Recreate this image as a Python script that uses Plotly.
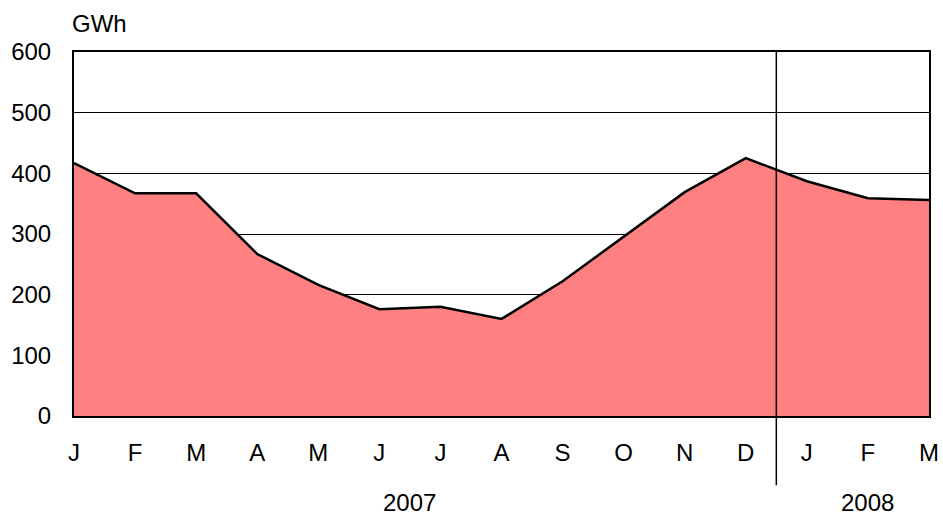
import plotly.graph_objects as go

months = ["J", "F", "M", "A", "M", "J", "J", "A", "S", "O", "N", "D", "J", "F", "M"]
values = [417, 367, 367, 267, 216, 176, 180, 160, 222, 295, 369, 425, 387, 359, 356]
years = ["2007", "2008"]
year_start_idx = [0, 12]
year_end_idx = [11, 14]
y_ticks = [0, 100, 200, 300, 400, 500, 600]
unit = "GWh"

x = list(range(len(months)))
n_span = len(months) - 1

fig = go.Figure()
fig.add_trace(go.Scatter(
    x=x, y=values, mode="lines", fill="tozeroy",
    fillcolor="#FF8080", line=dict(color="black", width=2.5),
    hoverinfo="skip", showlegend=False,
))

font = dict(family="Liberation Sans, Arial, sans-serif", size=24, color="black")

fig.update_layout(
    width=943, height=520,
    margin=dict(l=74, r=14, t=52, b=104, autoexpand=False),
    paper_bgcolor="white", plot_bgcolor="white",
    font=font,
    xaxis=dict(
        range=[0, n_span], tickvals=x, ticktext=months, showgrid=False,
        showline=True, linecolor="black", linewidth=2, mirror=True,
        ticks="", ticklabelstandoff=14, zeroline=False, tickfont=font,
        automargin=False,
    ),
    yaxis=dict(
        range=[0, 600], tickvals=y_ticks, showgrid=True, gridcolor="black", gridwidth=1,
        showline=True, linecolor="black", linewidth=2, mirror=True,
        ticks="", ticklabelstandoff=16, zeroline=False, tickfont=font,
        automargin=False,
    ),
    showlegend=False,
)

# year separator line
sep = (year_end_idx[0] + year_start_idx[1]) / 2 / n_span
fig.add_shape(type="line", xref="paper", yref="paper", x0=sep, x1=sep, y0=-0.19, y1=1,
              line=dict(color="black", width=1.5))

for yr, s, e in zip(years, year_start_idx, year_end_idx):
    fig.add_annotation(x=(s + e) / 2, y=-0.239, xref="x", yref="paper", text=yr,
                       showarrow=False, font=font, yanchor="middle")

fig.add_annotation(x=0.03, y=1.077, xref="paper", yref="paper", text=unit,
                   showarrow=False, font=font, xanchor="center", yanchor="middle")

fig.write_html(
    "out.html",
    config={"displayModeBar": False},
    post_script="document.body.style.margin='0';document.body.style.overflow='hidden';",
)
